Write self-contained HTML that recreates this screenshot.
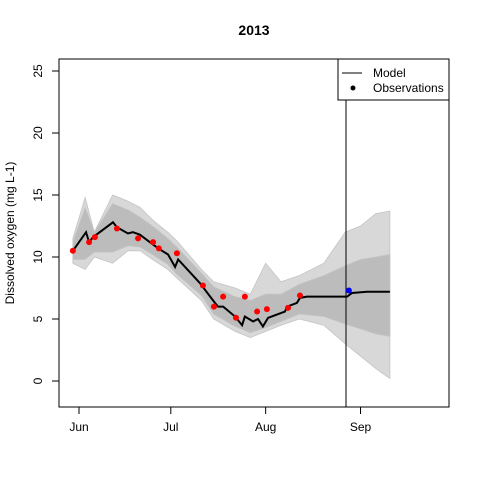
<!DOCTYPE html>
<html><head><meta charset="utf-8"><style>body{margin:0;background:#fff}svg{display:block;font-family:"Liberation Sans",Arial,sans-serif}</style></head>
<body>
<svg id="chart" width="480" height="480" viewBox="0 0 480 480">
<text x="254" y="35" text-anchor="middle" font-size="14" font-weight="bold">2013</text>
<text transform="translate(14,233) rotate(-90)" text-anchor="middle" font-size="12">Dissolved oxygen (mg L-1)</text>
<g id="bands"></g><g id="lines"></g><g id="axes"></g><g id="pts"></g>
<rect x="59" y="59" width="390" height="348" fill="none" stroke="#000" stroke-width="1"/>
<g>
<rect x="338" y="59" width="111" height="41" fill="#fff" stroke="#000"/>
<line x1="342" y1="73" x2="362" y2="73" stroke="#000"/>
<text x="373" y="77" font-size="12">Model</text>
<circle cx="353" cy="88" r="2.5" fill="#000"/>
<text x="373" y="92" font-size="12">Observations</text>
</g>
</svg>
<script>
const modelDays=[-2,2.3,3.3,4.6,11.1,12.4,16,17.6,19.9,24.2,26.5,29.1,31.4,32.4,39.5,43.8,45.4,47.1,51,53.3,54.2,56.9,58.5,60.1,61.8,67.3,68,71.2,72.2,74.5,87.6,89.2,94.1,101.6];
const modelVals=[10.5,12.0,11.2,11.6,12.8,12.4,11.9,12.0,11.8,11.0,10.6,10.2,9.2,9.8,7.9,6.5,6.0,6.0,5.2,4.5,5.2,4.8,5.0,4.4,5.1,5.6,6.0,6.3,6.7,6.8,6.8,7.1,7.2,7.2];
const obsDays=[-2,3.3,5.2,12.4,19.3,24.2,26.1,32,40.5,44.1,47.1,51.3,54.2,58.2,61.4,68.3,72.2];
const obsVals=[10.5,11.2,11.6,12.3,11.5,11.2,10.7,10.3,7.7,6.0,6.8,5.1,6.8,5.6,5.8,5.9,6.9];
const valDays=[88.2];
const valVals=[7.3];
const bandDays=[-2,2,5,11,16,20,24,29,32,40,44,51,56,61,66,72,80,87,92,97,101.6];
const outerUp=[11.5,14.8,12,15,14.5,14,13,12,11.3,9,8,7.5,7,9.5,8,8.5,9.5,12,12.5,13.5,13.7];
const outerLo=[9.5,9,10,9.5,10.5,10.5,9.8,9,8.3,6.5,5,4,3.5,4,4.5,5,4.5,3,2,1,0.2];
const innerUp=[11.2,14,12,14.3,13.8,13.2,12.5,11.5,10.8,8.7,7.6,6.8,6.5,7,7,7.8,8.5,9.3,9.8,10,10.2];
const innerLo=[9.8,9.8,10.4,10.4,10.9,10.8,10.2,9.4,8.6,6.9,5.4,4.4,3.9,4.3,4.8,5.4,5.2,4.6,4.2,3.8,3.6];
const yTicks=[0,5,10,15,20,25];
const monthLabels=["Jun","Jul","Aug","Sep"];
const monthDays=[0,30,61,92];
const NS="http://www.w3.org/2000/svg";
const xS=d=>79+d*3.06, yS=v=>381-v*12.4;
function mk(t,p,a){const e=document.createElementNS(NS,t);for(const k in a)e.setAttribute(k,a[k]);document.getElementById(p).appendChild(e);return e;}
function band(up,lo,fill,name){
 let d="M"+bandDays.map((x,i)=>xS(x)+","+yS(up[i])).join("L");
 for(let i=bandDays.length-1;i>=0;i--)d+="L"+xS(bandDays[i])+","+yS(lo[i]);
 const e=mk("path","bands",{d:d+"Z",fill:fill,stroke:"#c4c4c4","stroke-width":0.8});
 
 
}
band(outerUp,outerLo,"#d8d8d8","ensemble-outer-band");
band(innerUp,innerLo,"#bcbcbc","ensemble-inner-band");
const ml=mk("polyline","lines",{points:modelDays.map((d,i)=>xS(d)+","+yS(modelVals[i])).join(" "),fill:"none",stroke:"#000","stroke-width":2});


const vl=mk("line","lines",{x1:346,y1:59,x2:346,y2:407,stroke:"#000"});


obsDays.forEach((d,i)=>{const c=mk("circle","pts",{cx:xS(d),cy:yS(obsVals[i]),r:3,fill:"#f00"});
 
 });
valDays.forEach((d,i)=>{const c=mk("circle","pts",{cx:xS(d),cy:yS(valVals[i]),r:3,fill:"#00f"});
 
 });
yTicks.forEach(v=>{const y=yS(v);
 const l=mk("line","axes",{x1:52,y1:y,x2:59,y2:y,stroke:"#000"});
 
 
 const t=mk("text","axes",{transform:`translate(42,${y}) rotate(-90)`,"text-anchor":"middle","font-size":12});
 t.textContent=v;
 
 });
monthDays.forEach((d,i)=>{const x=xS(d);
 const l=mk("line","axes",{x1:x,y1:407,x2:x,y2:414,stroke:"#000"});
 
 
 const t=mk("text","axes",{x:x,y:431,"text-anchor":"middle","font-size":12});
 t.textContent=monthLabels[i];
 
 });
</script>
</body></html>
